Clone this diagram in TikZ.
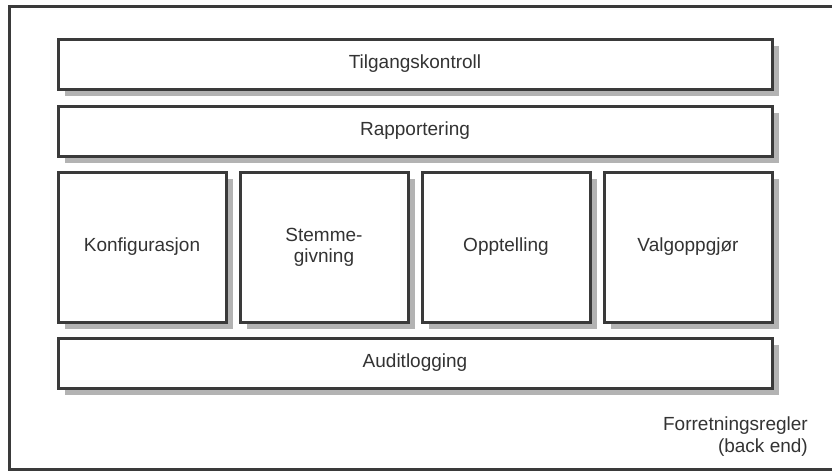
\documentclass[tikz,border=0pt]{standalone}
\usepackage{fontspec}
\setmainfont{Liberation Sans}
\usetikzlibrary{shadows}
\definecolor{edge}{HTML}{3A3A3A}
\definecolor{txt}{HTML}{333333}
\definecolor{shade}{HTML}{B3B3B3}
\begin{document}
\begin{tikzpicture}[x=1pt,y=-1pt,
  box/.style={draw=edge, line width=3pt, fill=white, text=txt,
    font=\fontsize{19}{21}\selectfont, align=center, inner sep=0pt,
    drop shadow={shadow xshift=7pt, shadow yshift=-7pt, fill=shade, opacity=1}},
  wide/.style={box, minimum width=714pt, minimum height=50pt},
  tall/.style={box, minimum width=168pt, minimum height=150pt}]
\useasboundingbox (0,0) rectangle (832,471);
\draw[edge, line width=3pt] (845,6) -- (9,6) -- (9,469) -- (845,469);
\node[wide] (tilgang) at (415,64) {Tilgangskontroll};
\node[wide] (rapport) at (415,131) {Rapportering};
\node[tall] (konf) at (142,247) {Konfigurasjon};
\node[tall] (stemme) at (324,247) {Stemme-\\givning};
\node[tall] (opptell) at (506,247) {Opptelling};
\node[tall] (valg) at (688,247) {Valgoppgjør};
\node[wide] (audit) at (415,363) {Auditlogging};
\node[anchor=east, align=right, text=txt, inner sep=0pt,
  font=\fontsize{19}{22}\selectfont] (regler) at (808,437)
  {Forretningsregler\\(back end)};
\end{tikzpicture}
\end{document}
